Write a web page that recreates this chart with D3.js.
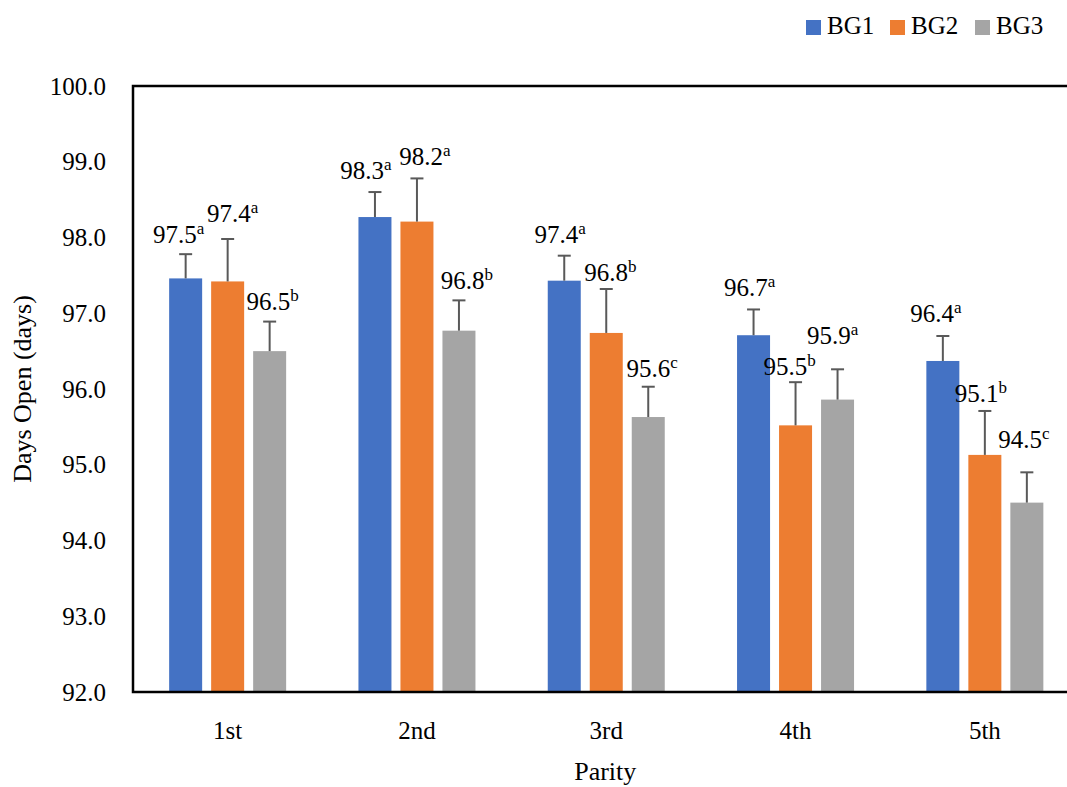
<!DOCTYPE html>
<html>
<head>
<meta charset="utf-8">
<script src="https://cdn.jsdelivr.net/npm/d3@7"></script>
<style>
  body { margin: 0; background: #fff; }
  svg { display: block; }
  svg text { font-family: "Liberation Serif", serif; }
</style>
</head>
<body>
<div id="chart"></div>
<script>
const parities = ["1st", "2nd", "3rd", "4th", "5th"];
const groups = ["BG1", "BG2", "BG3"];
const yTicks = [92, 93, 94, 95, 96, 97, 98, 99, 100];

const bg1 = [97.46, 98.27, 97.43, 96.71, 96.37];
const bg2 = [97.42, 98.21, 96.74, 95.52, 95.13];
const bg3 = [96.50, 96.77, 95.63, 95.86, 94.50];

const err1 = [0.32, 0.33, 0.33, 0.34, 0.33];
const err2 = [0.56, 0.57, 0.58, 0.57, 0.58];
const err3 = [0.39, 0.40, 0.40, 0.40, 0.40];

const label1 = ["97.5", "98.3", "97.4", "96.7", "96.4"];
const label2 = ["97.4", "98.2", "96.8", "95.5", "95.1"];
const label3 = ["96.5", "96.8", "95.6", "95.9", "94.5"];
const letters1 = ["a", "a", "a", "a", "a"];
const letters2 = ["a", "a", "b", "b", "b"];
const letters3 = ["b", "b", "c", "a", "c"];

// hand placement of the value labels (px), as in the original figure
const labelDx = [[-7, -9, -4, -4, -7], [5, 8, 4, -6, -4], [3, 8, 4, -5, -3]];
const labelLift = [[11, 13, 13, 13, 14], [17, 13, 8, 7, 9], [12, 11, 10, 25, 24]];

const colors = ["#4472C4", "#ED7D31", "#A5A5A5"];
const values = [bg1, bg2, bg3];
const errors = [err1, err2, err3];
const labels = [label1, label2, label3];
const letters = [letters1, letters2, letters3];

const rows = [];
groups.forEach((g, gi) => {
  parities.forEach((p, pi) => {
    rows.push({
      group: g, gi, parity: p, pi,
      value: values[gi][pi], err: errors[gi][pi],
      label: labels[gi][pi], letter: letters[gi][pi]
    });
  });
});

const width = 1067;
const height = 787;
const margin = { top: 86, left: 133, bottom: 95 };
const plotRight = 1079.5;

const svg = d3.select("#chart").append("svg")
  .attr("width", width)
  .attr("height", height);

const x0 = d3.scaleBand().domain(parities).range([margin.left, plotRight]).padding(0);
const x1 = d3.scaleBand().domain(groups).range([-58.5, 58.5]).paddingInner(9 / 42).paddingOuter(0);
const y = d3.scaleLinear().domain([92, 100]).range([height - margin.bottom, margin.top]);

const cx = (d) => x0(d.parity) + x0.bandwidth() / 2 + x1(d.group);

// bars
svg.append("g")
  .selectAll("rect")
  .data(rows)
  .join("rect")
  .attr("x", cx)
  .attr("y", (d) => y(d.value))
  .attr("width", x1.bandwidth())
  .attr("height", (d) => y(92) - y(d.value))
  .attr("fill", (d) => colors[d.gi]);

// error bars (plus direction only)
const eb = svg.append("g").attr("stroke", "#595959").attr("stroke-width", 2);
eb.selectAll("line.stem")
  .data(rows)
  .join("line")
  .attr("class", "stem")
  .attr("x1", (d) => cx(d) + x1.bandwidth() / 2)
  .attr("x2", (d) => cx(d) + x1.bandwidth() / 2)
  .attr("y1", (d) => y(d.value))
  .attr("y2", (d) => y(d.value + d.err));
eb.selectAll("line.cap")
  .data(rows)
  .join("line")
  .attr("class", "cap")
  .attr("x1", (d) => cx(d) + x1.bandwidth() / 2 - 6.5)
  .attr("x2", (d) => cx(d) + x1.bandwidth() / 2 + 6.5)
  .attr("y1", (d) => y(d.value + d.err))
  .attr("y2", (d) => y(d.value + d.err));

// value labels with superscript letters
const lab = svg.append("g")
  .selectAll("text")
  .data(rows)
  .join("text")
  .attr("x", (d) => cx(d) + x1.bandwidth() / 2 + labelDx[d.gi][d.pi])
  .attr("y", (d) => y(d.value + d.err) - labelLift[d.gi][d.pi])
  .attr("text-anchor", "middle")
  .attr("font-size", 25)
  .attr("fill", "#000");
lab.append("tspan").text((d) => d.label);
lab.append("tspan")
  .attr("font-size", 17)
  .attr("dy", -9)
  .text((d) => d.letter);

// frame
svg.append("rect")
  .attr("x", margin.left)
  .attr("y", margin.top)
  .attr("width", plotRight - margin.left)
  .attr("height", y(92) - y(100))
  .attr("fill", "none")
  .attr("stroke", "#000")
  .attr("stroke-width", 2.5);

// y axis
const yAxis = svg.append("g")
  .attr("transform", `translate(${margin.left},0)`)
  .call(d3.axisLeft(y).tickValues(yTicks).tickSize(0).tickPadding(27).tickFormat(d3.format(".1f")))
  .attr("font-family", null)
  .attr("font-size", 25);
yAxis.select(".domain").remove();
yAxis.selectAll("text").attr("fill", "#000");

// x axis
const xAxis = svg.append("g")
  .attr("transform", `translate(0,${y(92)})`)
  .call(d3.axisBottom(x0).tickSize(0).tickPadding(29))
  .attr("font-family", null)
  .attr("font-size", 25);
xAxis.select(".domain").remove();
xAxis.selectAll("text").attr("fill", "#000");

// axis titles
svg.append("text")
  .attr("x", (margin.left + plotRight) / 2 - 1)
  .attr("y", 780)
  .attr("text-anchor", "middle")
  .attr("font-size", 26)
  .text("Parity");

svg.append("text")
  .attr("transform", `translate(31,${(y(92) + y(100)) / 2}) rotate(-90)`)
  .attr("text-anchor", "middle")
  .attr("font-size", 26)
  .text("Days Open (days)");

// legend
const legendX = [806, 890, 975];
const legend = svg.append("g")
  .selectAll("g")
  .data(groups)
  .join("g")
  .attr("transform", (d, i) => `translate(${legendX[i]},20)`);
legend.append("rect")
  .attr("width", 15)
  .attr("height", 15)
  .attr("fill", (d, i) => colors[i]);
legend.append("text")
  .attr("x", 21)
  .attr("y", 14)
  .attr("font-size", 25)
  .text((d) => d);
</script>
</body>
</html>
